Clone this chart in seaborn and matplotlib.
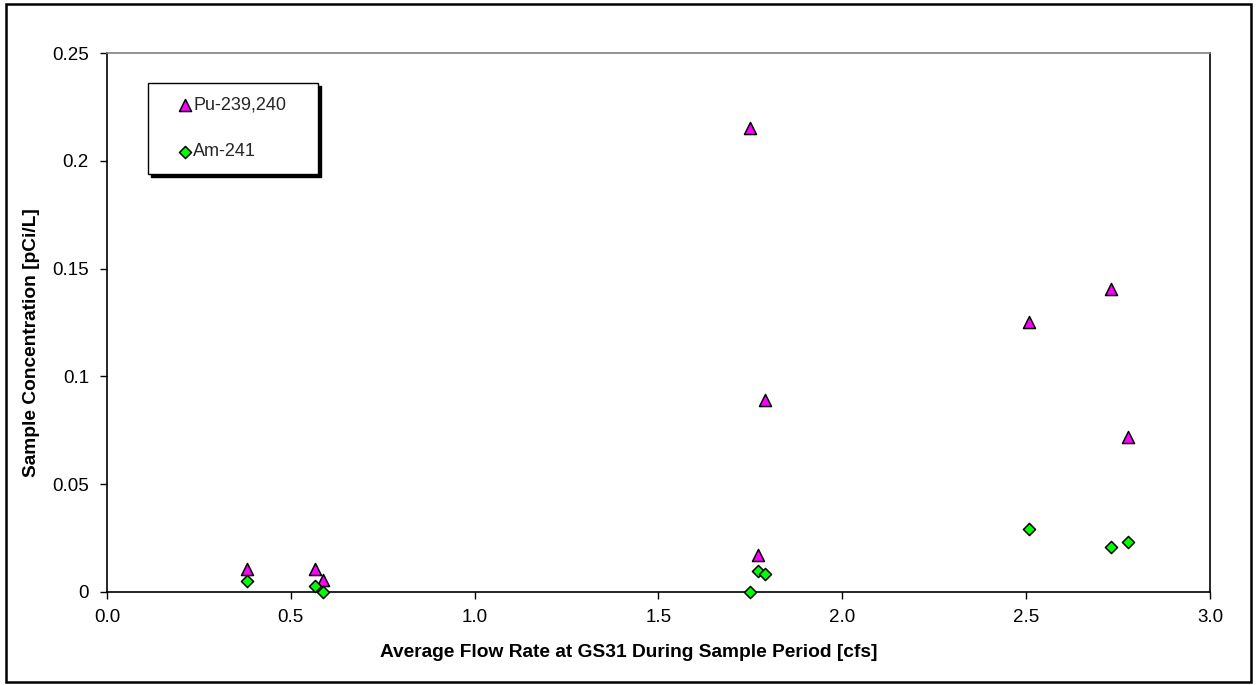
import matplotlib
matplotlib.use("Agg")
import matplotlib.pyplot as plt
import seaborn as sns
import pandas as pd
from matplotlib.patches import Rectangle

# Data
pu_flow = [0.381, 0.566, 0.587, 1.748, 1.790, 1.771, 2.508, 2.730, 2.778]
pu_conc = [0.0107, 0.0107, 0.0056, 0.215, 0.089, 0.017, 0.1254, 0.1404, 0.072]
am_flow = [0.381, 0.566, 0.587, 1.748, 1.771, 1.790, 2.508, 2.730, 2.778]
am_conc = [0.0052, 0.0028, 0.0, 0.0, 0.0099, 0.0082, 0.0294, 0.0207, 0.023]
series_names = ["Pu-239,240", "Am-241"]
x_ticks = [0.0, 0.5, 1.0, 1.5, 2.0, 2.5, 3.0]
x_tick_labels = ["0.0", "0.5", "1.0", "1.5", "2.0", "2.5", "3.0"]
y_ticks = [0, 0.05, 0.1, 0.15, 0.2, 0.25]
y_tick_labels = ["0", "0.05", "0.1", "0.15", "0.2", "0.25"]

pu_df = pd.DataFrame({"flow": pu_flow, "conc": pu_conc})
am_df = pd.DataFrame({"flow": am_flow, "conc": am_conc})

sns.set_theme(style="white")
plt.rcParams["font.family"] = ["Liberation Sans", "DejaVu Sans"]

fig = plt.figure(figsize=(12.57, 6.85), dpi=100)
ax = fig.add_axes([0.0851, 0.1358, 0.9626 - 0.0851, 0.9226 - 0.1358])

sns.scatterplot(data=pu_df, x="flow", y="conc", color="#FF00FF", marker="^",
                s=75, edgecolor="black", linewidth=1.1, ax=ax, zorder=3,
                clip_on=False, label=series_names[0])
sns.scatterplot(data=am_df, x="flow", y="conc", color="#00FF00", marker="D",
                s=38, edgecolor="black", linewidth=1.1, ax=ax, zorder=3,
                clip_on=False, label=series_names[1])

ax.set_xlim(0, 3.0)
ax.set_ylim(0, 0.25)
ax.set_xticks(x_ticks)
ax.set_xticklabels(x_tick_labels)
ax.set_yticks(y_ticks)
ax.set_yticklabels(y_tick_labels)
ax.tick_params(axis="both", direction="out", length=5, width=1, color="black",
               labelsize=13.5, labelcolor="black", bottom=True, left=True)
ax.tick_params(axis="x", pad=7)
ax.tick_params(axis="y", pad=8)

for side in ["left", "bottom"]:
    ax.spines[side].set_color("black")
    ax.spines[side].set_linewidth(1.2)
ax.spines["top"].set_color("#808080")
ax.spines["top"].set_linewidth(1.2)
ax.spines["right"].set_color("black")
ax.spines["right"].set_linewidth(1.2)

ax.set_xlabel("Average Flow Rate at GS31 During Sample Period [cfs]",
              fontsize=13.8, fontweight="bold", color="black", labelpad=13)
ax.set_ylabel("Sample Concentration [pCi/L]",
              fontsize=13.8, fontweight="bold", color="black", labelpad=9)
# the reference centres the axis titles on the whole chart, not on the plot area
ax.xaxis.label.set_x(0.4728)
ax.yaxis.label.set_y(0.4629)

handles, labels = ax.get_legend_handles_labels()
leg = ax.legend(handles, labels, loc="upper left",
                bbox_to_anchor=(0.0372, 0.78, 0.1541, 0.1643), mode="expand",
                borderaxespad=0, frameon=True, fancybox=False,
                shadow={"color": "black", "alpha": 1.0},
                edgecolor="black", facecolor="white", fontsize=13,
                handlelength=2.6, handletextpad=-0.85, labelspacing=1.65,
                borderpad=0.75, markerscale=1.0)
leg.get_frame().set_linewidth(1.0)
leg.set_zorder(5)

fig.patches.append(Rectangle((0.005, 0.004), 0.99, 0.99, transform=fig.transFigure,
                             fill=False, edgecolor="black", linewidth=1.8))

fig.savefig("out.png", dpi=100, facecolor="white")
